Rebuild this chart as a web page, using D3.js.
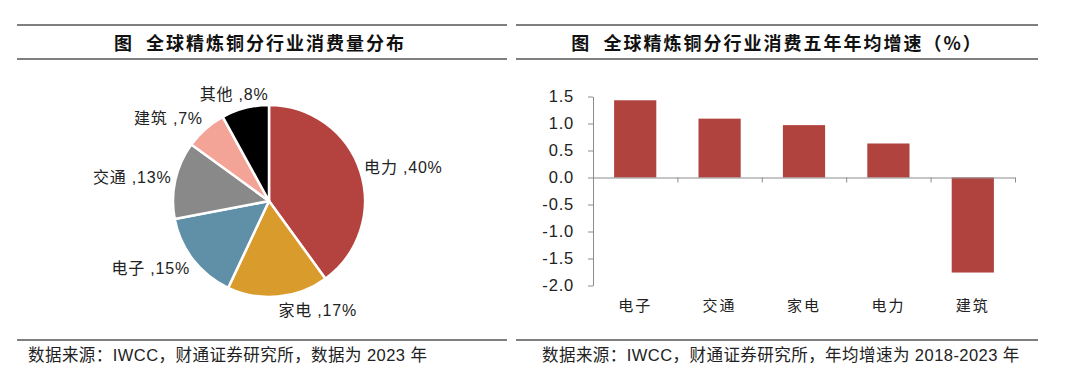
<!DOCTYPE html>
<html>
<head>
<meta charset="utf-8">
<script src="https://cdn.jsdelivr.net/npm/d3@7"></script>
<style>
  body { margin: 0; background: #fff; }
  svg { display: block; font-family: "Liberation Sans", "Noto Sans CJK SC", sans-serif; }
  .title { font-family: "Noto Sans CJK SC", sans-serif; font-weight: bold; font-size: 18px; fill: #111; letter-spacing: 2px; white-space: pre; }
  .note { font-size: 16.5px; fill: #222; letter-spacing: 0.45px; }
  .rule { stroke: #555; stroke-width: 1.3; }
  .axis path, .axis line { stroke: #8c8c8c; }
  .axis text { font-size: 16.5px; fill: #222; font-family: "Liberation Sans", sans-serif; letter-spacing: 0.8px; }
</style>
</head>
<body>
<svg width="1080" height="391"></svg>
<script>
// pie: share of refined copper consumption by sector, 2023
const pieCats = ['电力', '家电', '电子', '交通', '建筑', '其他'];
const pieVals = [40, 17, 15, 13, 7, 8];
const pieColors = ['#b4433f', '#d99b2b', '#6090a7', '#898989', '#f4a496', '#000000'];

// bars: five-year average growth (%)
const barCats = ['电子', '交通', '家电', '电力', '建筑'];
const barVals = [1.43, 1.09, 0.97, 0.63, -1.76];
const yTicks = [1.5, 1.0, 0.5, 0.0, -0.5, -1.0, -1.5, -2.0];

const svg = d3.select('svg');

// header / footer rules
const rules = [[17, 507], [516, 1038]];
rules.forEach(r => {
  [25, 59, 340].forEach(y => {
    svg.append('line').attr('class', 'rule')
      .attr('x1', r[0]).attr('x2', r[1]).attr('y1', y).attr('y2', y);
  });
});

svg.append('text').attr('class', 'title')
  .attr('x', 260).attr('y', 50).attr('text-anchor', 'middle')
  .text('图  全球精炼铜分行业消费量分布');
svg.append('text').attr('class', 'title')
  .attr('x', 777).attr('y', 50).attr('text-anchor', 'middle')
  .text('图  全球精炼铜分行业消费五年年均增速（%）');

svg.append('text').attr('class', 'note')
  .attr('x', 28).attr('y', 361)
  .text('数据来源：IWCC，财通证券研究所，数据为 2023 年');
svg.append('text').attr('class', 'note')
  .attr('x', 542).attr('y', 361)
  .text('数据来源：IWCC，财通证券研究所，年均增速为 2018-2023 年');

// ---- pie ----
const cx = 269, cy = 201, R = 96;
const pie = d3.pie().sort(null).value(d => d.v);
const arcs = pie(pieCats.map((c, i) => ({ c: c, v: pieVals[i], col: pieColors[i] })));
const arc = d3.arc().innerRadius(0).outerRadius(R);

const pg = svg.append('g').attr('transform', 'translate(' + cx + ',' + cy + ')');
pg.selectAll('path')
  .data(arcs)
  .enter().append('path')
  .attr('d', arc)
  .attr('fill', d => d.data.col)
  .attr('stroke', '#fff')
  .attr('stroke-width', 2.5)
  .attr('stroke-linejoin', 'round');

pg.selectAll('text.lbl')
  .data(arcs)
  .enter().append('text')
  .attr('class', 'lbl')
  .each(function (d) {
    const a = (d.startAngle + d.endAngle) / 2;
    const s = Math.sin(a), c = -Math.cos(a);
    const r = R + 4;
    const anchor = s > 0.05 ? 'start' : (s < -0.3 ? 'end' : 'middle');
    d3.select(this)
      .attr('x', r * s - (anchor == 'middle' ? 10 : 0))
      .attr('y', r * c + 10 * c)
      .attr('dy', '0.35em')
      .attr('text-anchor', anchor);
  })
  .style('font-size', '16px')
  .style('letter-spacing', '0.8px')
  .style('fill', '#222')
  .text(d => d.data.c + ' ,' + d.data.v + '%');

// ---- bars ----
const x = d3.scaleBand().domain(barCats).range([593, 1015]).paddingInner(0.5).paddingOuter(0.25);
const y = d3.scaleLinear().domain([-2, 1.5]).range([285.5, 96.5]);

svg.append('g')
  .selectAll('rect')
  .data(barVals)
  .enter().append('rect')
  .attr('x', (d, i) => x(barCats[i]))
  .attr('width', x.bandwidth())
  .attr('y', d => y(Math.max(0, d)))
  .attr('height', d => Math.abs(y(d) - y(0)))
  .attr('fill', '#b1433f');

svg.append('g')
  .attr('class', 'axis')
  .attr('transform', 'translate(593,0)')
  .call(d3.axisLeft(y).tickValues(yTicks).tickSize(5).tickSizeOuter(0).tickPadding(14)
    .tickFormat(d => d.toFixed(1)));

// category boundary ticks on the zero line
const xb = d3.scaleLinear().domain([0, barCats.length]).range([593, 1015]);
svg.append('g')
  .attr('class', 'axis')
  .attr('transform', 'translate(0,' + y(0) + ')')
  .call(d3.axisBottom(xb).ticks(barCats.length).tickSize(5).tickSizeOuter(0).tickFormat(''));

const xl = svg.append('g')
  .attr('class', 'axis')
  .attr('transform', 'translate(0,' + y(-2) + ')')
  .call(d3.axisBottom(x).tickSize(0).tickPadding(15));
xl.select('.domain').remove();
xl.selectAll('text').style('font-family', '"Noto Sans CJK SC", sans-serif').style('font-size', '15px')
  .style('letter-spacing', '2px');
</script>
</body>
</html>
